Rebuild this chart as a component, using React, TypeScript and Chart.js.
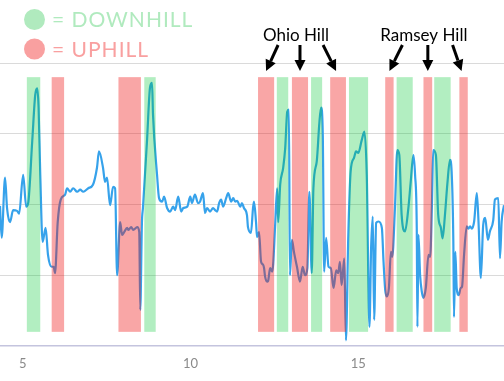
import React, { useEffect, useRef } from "react";
import { Chart, registerables } from "chart.js";

Chart.register(...registerables);

// Distance (miles) along the ride
const distance = [4.32,4.37,4.47,4.53,4.62,4.71,4.83,4.89,5.01,5.10,5.16,5.28,5.37,5.43,5.47,5.52,5.59,5.68,5.75,5.86,5.92,5.96,6.04,6.13,6.26,6.32,6.41,6.50,6.62,6.71,6.80,6.95,7.09,7.21,7.27,7.39,7.45,7.51,7.60,7.69,7.75,7.81,7.90,7.96,8.02,8.11,8.14,8.23,8.29,8.41,8.47,8.50,8.55,8.58,8.70,8.79,8.85,8.88,9.00,9.06,9.15,9.21,9.30,9.39,9.48,9.54,9.63,9.72,9.78,9.90,9.99,10.04,10.13,10.22,10.28,10.37,10.43,10.49,10.58,10.67,10.73,10.79,10.85,10.91,10.97,11.06,11.12,11.21,11.27,11.33,11.39,11.48,11.53,11.59,11.68,11.71,11.80,11.86,11.89,11.95,11.98,12.04,12.10,12.16,12.19,12.22,12.28,12.31,12.37,12.43,12.46,12.52,12.58,12.61,12.67,12.76,12.82,12.88,12.93,12.96,13.02,13.08,13.17,13.26,13.34,13.41,13.48,13.54,13.61,13.66,13.76,13.84,13.89,13.94,13.98,14.04,14.11,14.18,14.26,14.34,14.40,14.45,14.50,14.58,14.63,14.70,14.77,14.87,14.93,15.00,15.10,15.18,15.25,15.33,15.38,15.43,15.47,15.53,15.60,15.70,15.75,15.80,15.85,15.91,15.97,16.01,16.09,16.16,16.22,16.29,16.39,16.49,16.56,16.64,16.69,16.74,16.76,16.79,16.84,16.89,16.94,17.01,17.09,17.14,17.19,17.23,17.31,17.38,17.46,17.51,17.58,17.65,17.73,17.78,17.83,17.85,17.89,17.93,17.99,18.05,18.09,18.15,18.23,18.28,18.33,18.38,18.45,18.53,18.58,18.65,18.72,18.78,18.86,18.92,19.02,19.07,19.17,19.22,19.27,19.34];

// Speed (mph)
const speed = [19.8,15.3,23.8,19.5,17.5,19.2,19.1,18.7,24.2,19.7,20.2,28.9,35.5,36.4,33.7,24.2,14.7,16.7,12.9,11.2,11.2,10.3,17.5,20.7,21.4,22.3,21.8,22.3,21.8,22.1,21.8,22.3,22.8,25.2,27.5,25.2,23.2,23.8,19.9,22.5,22.3,10.0,17.5,15.7,16.1,16.7,16.4,16.8,16.4,16.8,16.1,5.1,17.5,19.5,28.9,36.5,37.2,32.7,24.2,20.9,20.4,21.1,19.5,19.0,19.7,19.2,21.1,19.0,19.5,19.7,21.1,20.2,21.4,20.2,20.4,21.6,18.8,19.5,19.0,19.5,19.2,19.0,20.2,20.7,19.7,20.9,21.6,20.4,20.9,20.4,20.5,19.7,20.2,19.5,18.5,16.8,16.0,19.5,20.4,17.5,15.4,16.1,11.9,11.5,11.0,9.8,9.1,9.2,11.0,10.5,11.5,17.1,22.3,17.5,22.8,25.2,28.0,33.1,33.4,10.0,15.0,13.3,11.2,9.1,11.2,10.0,11.0,21.8,10.3,22.3,26.1,31.7,33.7,29.8,10.5,15.3,11.2,11.0,8.2,10.7,10.3,11.9,8.6,12.4,0.8,15.7,24.7,26.6,27.5,27.3,29.1,30.3,24.2,2.7,13.9,18.3,3.7,17.4,17.6,16.7,11.9,7.9,7.0,8.2,13.3,12.6,19.5,27.7,27.0,18.5,16.2,19.5,23.2,27.0,24.2,16.7,2.7,15.7,10.0,7.7,6.8,8.2,12.9,12.6,19.5,27.7,27.0,18.5,16.7,15.2,18.5,22.8,26.3,24.6,14.8,4.1,13.3,8.2,7.2,8.2,8.4,12.9,16.9,16.6,16.9,16.6,17.6,21.6,17.6,9.6,17.1,18.1,15.0,16.2,17.8,20.7,20.9,12.4,17.6,19.9];

// Downhill / uphill segments (miles)
const downhillStart = [5.12, 8.62, 12.57, 13.59, 14.72, 16.14, 17.26];
const downhillEnd = [5.52, 8.96, 12.91, 13.92, 15.29, 16.62, 17.75];
const uphillStart = [5.86, 7.85, 12.01, 13.02, 14.16, 15.80, 16.94, 18.01];
const uphillEnd = [6.23, 8.52, 12.49, 13.50, 14.63, 16.05, 17.20, 18.26];
const bandRange = [2, 38];

const xTicks = [5, 10, 15];
const xRange = [4.32, 19.34];
const yRange = [0, 40];

const legendLabels = ["= DOWNHILL", "= UPHILL"];
const hillNames = ["Ohio Hill", "Ramsey Hill"];
const hillUphillIdx = [[2, 3, 4], [5, 6, 7]];
const hillArrowTilt = [[12, 0, -15], [13, 0, -11]];

const GREEN = "rgba(0,200,50,0.3)";
const RED = "rgba(240,20,20,0.38)";
const GREEN_TEXT = "rgb(176,234,190)";
const RED_TEXT = "rgb(249,160,160)";
const FONT = "Lato, 'Open Sans', sans-serif";

function drawArrow(ctx: CanvasRenderingContext2D, tx: number, ty: number, hx: number, hy: number) {
  const ang = Math.atan2(hy - ty, hx - tx);
  const head = 11;
  const hw = 5.5;
  const bx = hx - Math.cos(ang) * head;
  const by = hy - Math.sin(ang) * head;
  ctx.beginPath();
  ctx.moveTo(tx, ty);
  ctx.lineTo(bx, by);
  ctx.lineWidth = 3;
  ctx.strokeStyle = "#000";
  ctx.stroke();
  ctx.beginPath();
  ctx.moveTo(hx, hy);
  ctx.lineTo(bx + Math.sin(ang) * hw, by - Math.cos(ang) * hw);
  ctx.lineTo(bx - Math.sin(ang) * hw, by + Math.cos(ang) * hw);
  ctx.closePath();
  ctx.fillStyle = "#000";
  ctx.fill();
}

const overlayPlugin = {
  id: "hillOverlay",
  afterDatasetsDraw(chart: any) {
    const { ctx, scales } = chart;
    const x = scales.x;
    const y = scales.y;
    const top = y.getPixelForValue(bandRange[1]);
    const bottom = y.getPixelForValue(bandRange[0]);
    ctx.save();
    downhillStart.forEach((s, i) => {
      const l = x.getPixelForValue(s);
      const r = x.getPixelForValue(downhillEnd[i]);
      ctx.fillStyle = GREEN;
      ctx.fillRect(l, top, r - l, bottom - top);
    });
    uphillStart.forEach((s, i) => {
      const l = x.getPixelForValue(s);
      const r = x.getPixelForValue(uphillEnd[i]);
      ctx.fillStyle = RED;
      ctx.fillRect(l, top, r - l, bottom - top);
    });
    ctx.restore();
  },
  afterDraw(chart: any) {
    const { ctx, scales } = chart;
    const x = scales.x;
    ctx.save();
    // legend
    const legendColors = [GREEN_TEXT, RED_TEXT];
    legendLabels.forEach((label, i) => {
      const cy = 19.5 + i * 29.5;
      ctx.beginPath();
      ctx.arc(34.5, cy, 10.5, 0, Math.PI * 2);
      ctx.fillStyle = legendColors[i];
      ctx.fill();
      ctx.font = `21px ${FONT}`;
      ctx.textBaseline = "middle";
      ctx.textAlign = "left";
      (ctx as any).letterSpacing = "1px";
      ctx.fillText(label, 52, cy + 1);
    });
    (ctx as any).letterSpacing = "0px";
    // hill annotations
    hillNames.forEach((name, h) => {
      const idx = hillUphillIdx[h];
      const centers = idx.map((k) => (x.getPixelForValue(uphillStart[k]) + x.getPixelForValue(uphillEnd[k])) / 2);
      ctx.font = `17px ${FONT}`;
      ctx.fillStyle = "#000";
      ctx.textAlign = "center";
      ctx.textBaseline = "alphabetic";
      ctx.fillText(name, centers[1] - 4, 40.5);
      centers.forEach((cx, j) => {
        drawArrow(ctx, cx + hillArrowTilt[h][j], 45, cx - (j === 2 ? 2 : 0), 71);
      });
    });
    ctx.restore();
  },
};

export default function App() {
  const ref = useRef<HTMLCanvasElement | null>(null);
  useEffect(() => {
    if (!ref.current) return;
    const chart = new Chart(ref.current, {
      type: "line",
      data: {
        datasets: [
          {
            label: "Speed",
            data: distance.map((d, i) => ({ x: d, y: speed[i] })),
            borderColor: "#36A2EB",
            backgroundColor: "#36A2EB",
            borderWidth: 2.2,
            pointRadius: 0,
            fill: false,
            cubicInterpolationMode: "monotone",
          },
        ],
      },
      options: {
        animation: false,
        responsive: false,
        layout: { padding: { top: 63, bottom: 0, left: 0, right: 0 } },
        plugins: { legend: { display: false }, tooltip: { enabled: false }, title: { display: false } },
        scales: {
          x: {
            type: "linear",
            min: xRange[0],
            max: xRange[1],
            afterBuildTicks: (scale: any) => {
              scale.ticks = xTicks.map((v) => ({ value: v }));
            },
            ticks: { color: "#8a8a8a", font: { family: FONT, size: 13, lineHeight: 1.0 }, padding: 11, includeBounds: false },
            grid: { display: false, drawTicks: false },
            border: { display: true, color: "rgb(196,196,222)", width: 1.5 },
          },
          y: {
            min: yRange[0],
            max: yRange[1],
            ticks: { display: false, stepSize: 10 },
            grid: {
              drawTicks: false,
              color: (c: any) => (c.tick && c.tick.value === 0 ? "rgba(0,0,0,0)" : "rgb(218,218,218)"),
              lineWidth: 1,
            },
            border: { display: false },
          },
        },
      },
      plugins: [overlayPlugin],
    });
    return () => chart.destroy();
  }, []);
  return (
    <div style={{ position: "fixed", left: 0, top: 0, width: 504, height: 381, background: "#fff" }}>
      <canvas ref={ref} width={504} height={381} style={{ display: "block" }} />
    </div>
  );
}
